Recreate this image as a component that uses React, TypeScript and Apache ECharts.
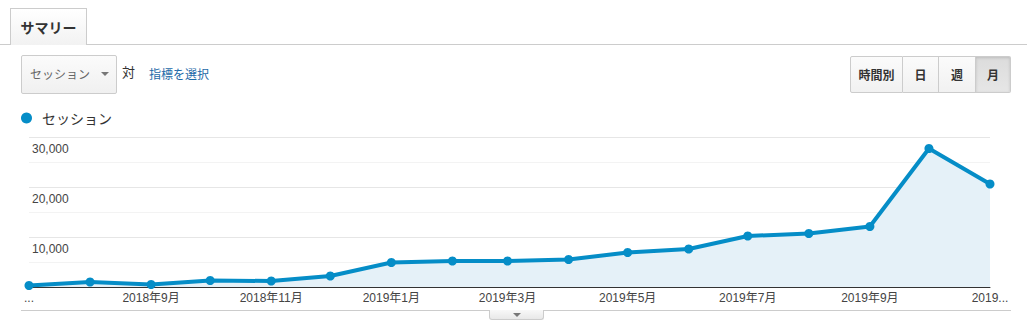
import React, { useEffect, useRef } from "react";
import * as echarts from "echarts";

const FONT = '"Liberation Sans", Arial, "Noto Sans CJK JP", sans-serif';

// Monthly data (year, month index 0-based)
const months: [number, number][] = [
  [2018, 6], [2018, 7], [2018, 8], [2018, 9], [2018, 10], [2018, 11],
  [2019, 0], [2019, 1], [2019, 2], [2019, 3], [2019, 4], [2019, 5],
  [2019, 6], [2019, 7], [2019, 8], [2019, 9], [2019, 10],
];
const sessions = [
  300, 1000, 500, 1300, 1200, 2200,
  4900, 5200, 5200, 5500, 6900, 7600,
  10200, 10700, 12100, 27700, 20600,
];
const xLabelMonths: [number, number][] = [
  [2018, 6], [2018, 8], [2018, 10], [2019, 0], [2019, 2],
  [2019, 4], [2019, 6], [2019, 8], [2019, 10],
];
const yLabelValues = [10000, 20000, 30000];
const seriesName = "セッション";

const DAY = 86400000;
const origin = Date.UTC(months[0][0], months[0][1], 1);
const dayOf = (y: number, m: number) => Math.round((Date.UTC(y, m, 1) - origin) / DAY);

export default function App() {
  const ref = useRef<HTMLDivElement>(null);
  useEffect(() => {
    document.body.style.margin = "0";
    if (!ref.current) return;
    const chart = echarts.init(ref.current, undefined, { renderer: "svg" });
    const lastDay = dayOf(months[months.length - 1][0], months[months.length - 1][1]);
    chart.setOption({
      animation: false,
      textStyle: { fontFamily: FONT },
      legend: {
        show: true,
        left: 16,
        top: 106,
        icon: "circle",
        itemWidth: 11,
        itemHeight: 11,
        itemGap: 10,
        textStyle: {
          fontSize: 14,
          color: "#333",
          padding: [0, 0, 0, 5],
          fontFamily: '"Noto Sans CJK JP", sans-serif',
        },
        data: [seriesName],
      },
      grid: { left: 29, right: 37, top: 137, bottom: 48, containLabel: false },
      xAxis: {
        type: "value",
        min: 0,
        max: lastDay,
        axisLine: { show: true, onZero: false, lineStyle: { color: "#333", width: 1 } },
        axisTick: { show: false },
        splitLine: { show: false },
        axisLabel: {
          customValues: xLabelMonths.map(([y, m]) => dayOf(y, m)),
          margin: 5,
          fontSize: 12,
          color: "#444",
          fontFamily: FONT,
          formatter: (v: number) => {
            if (v <= 0) return "...";
            const d = new Date(origin + v * DAY);
            if (v >= lastDay) return d.getUTCFullYear() + "...";
            return d.getUTCFullYear() + "年" + (d.getUTCMonth() + 1) + "月";
          },
        },
      },
      yAxis: {
        type: "value",
        min: 0,
        max: 30000,
        interval: 5000,
        axisLine: { show: false },
        axisTick: { show: false },
        splitLine: { show: true, lineStyle: { color: ["#e6e6e6", "#f3f3f3"], width: 1 } },
        axisLabel: {
          inside: true,
          customValues: yLabelValues,
          margin: 3,
          fontSize: 12,
          color: "#444",
          verticalAlign: "top",
          padding: [6, 0, 0, 0],
          fontFamily: FONT,
          formatter: (v: number) => v.toLocaleString("en-US"),
        },
      },
      series: [
        {
          name: seriesName,
          type: "line",
          data: months.map(([y, m], i) => [dayOf(y, m), sessions[i]]),
          symbol: "circle",
          symbolSize: 9,
          showSymbol: true,
          lineStyle: { color: "#058dc7", width: 4 },
          itemStyle: { color: "#058dc7" },
          areaStyle: { color: "#e5f1f8", opacity: 1 },
          z: 3,
        },
      ],
    });
    return () => chart.dispose();
  }, []);

  const btn = (left: number, width: number, label: string, selected: boolean, radius: string) => (
    <div
      style={{
        position: "absolute",
        left,
        top: 56,
        width,
        height: 37,
        boxSizing: "border-box",
        border: "1px solid #ccc",
        borderLeftWidth: left === 850 ? 1 : 0,
        borderRadius: radius,
        background: selected
          ? "linear-gradient(#dcdcdc, #e6e6e6)"
          : "linear-gradient(#fbfbfb, #f1f1f1)",
        boxShadow: selected ? "inset 0 1px 3px rgba(0,0,0,0.15)" : "none",
        display: "flex",
        alignItems: "center",
        justifyContent: "center",
        fontSize: 12,
        fontWeight: "bold",
        color: "#333",
        fontFamily: '"Noto Sans CJK JP", sans-serif',
      }}
    >
      {label}
    </div>
  );

  return (
    <div style={{ position: "relative", width: 1027, height: 335, background: "#fff", overflow: "hidden", fontFamily: FONT }}>
      <div ref={ref} style={{ position: "absolute", left: 0, top: 0, width: 1027, height: 335 }} />
      <div style={{ position: "absolute", left: 0, top: 44, width: 1027, height: 1, background: "#ccc" }} />
      <div
        style={{
          position: "absolute",
          left: 10,
          top: 8,
          width: 77,
          height: 37,
          boxSizing: "border-box",
          border: "1px solid #ccc",
          borderBottom: "none",
          background: "linear-gradient(#ffffff, #f2f2f2)",
          display: "flex",
          alignItems: "center",
          justifyContent: "center",
          fontSize: 14,
          fontWeight: "bold",
          color: "#333",
          fontFamily: '"Noto Sans CJK JP", sans-serif',
        }}
      >
        サマリー
      </div>
      <div
        style={{
          position: "absolute",
          left: 21,
          top: 55,
          width: 96,
          height: 39,
          boxSizing: "border-box",
          border: "1px solid #ccc",
          borderRadius: 2,
          background: "linear-gradient(#fbfbfb, #f0f0f0)",
          fontSize: 12,
          color: "#666",
          fontFamily: '"Noto Sans CJK JP", sans-serif',
        }}
      >
        <span style={{ position: "absolute", left: 8, top: 9 }}>セッション</span>
        <div
          style={{
            position: "absolute",
            left: 79,
            top: 16,
            width: 0,
            height: 0,
            borderLeft: "4px solid transparent",
            borderRight: "4px solid transparent",
            borderTop: "4px solid #777",
          }}
        />
      </div>
      <span style={{ position: "absolute", left: 122, top: 62, fontSize: 13, color: "#333", fontFamily: '"Noto Sans CJK JP", sans-serif' }}>対</span>
      <span style={{ position: "absolute", left: 149, top: 65, fontSize: 12, color: "#1d6aa8", fontFamily: '"Noto Sans CJK JP", sans-serif' }}>指標を選択</span>
      {btn(850, 53, "時間別", false, "2px 0 0 2px")}
      {btn(903, 36, "日", false, "0")}
      {btn(939, 37, "週", false, "0")}
      {btn(976, 35, "月", true, "0 2px 2px 0")}
      <div style={{ position: "absolute", left: 21, top: 310, width: 990, height: 1, background: "#ccc" }} />
      <div
        style={{
          position: "absolute",
          left: 489,
          top: 310,
          width: 55,
          height: 10,
          boxSizing: "border-box",
          border: "1px solid #ccc",
          borderTop: "none",
          borderRadius: "0 0 3px 3px",
          background: "linear-gradient(#f8f8f8, #e8e8e8)",
        }}
      >
        <div
          style={{
            position: "absolute",
            left: 23,
            top: 3,
            width: 0,
            height: 0,
            borderLeft: "4px solid transparent",
            borderRight: "4px solid transparent",
            borderTop: "4px solid #777",
          }}
        />
      </div>
    </div>
  );
}
